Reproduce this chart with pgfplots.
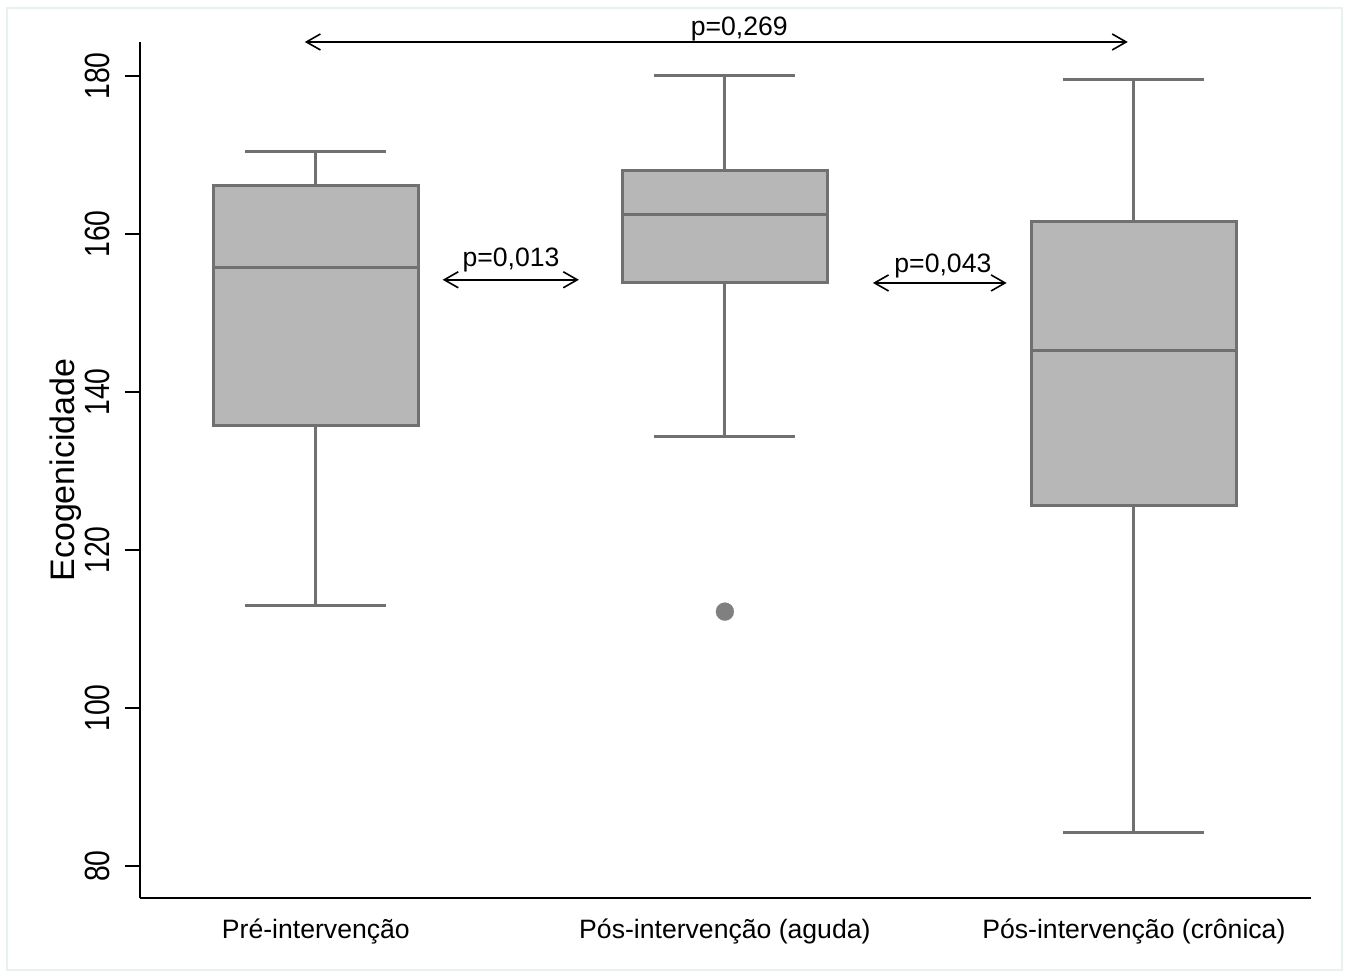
\documentclass[border=0pt]{standalone}
\usepackage{pgfplots}
\pgfplotsset{compat=1.18}
\usetikzlibrary{arrows.meta}
\usepackage{fontspec}
\setmainfont{Liberation Sans}
\newfontfamily\tickfont[FakeStretch=0.81]{Liberation Sans}
\definecolor{boxedge}{RGB}{112,112,112}
\definecolor{boxfill}{RGB}{183,183,183}
\definecolor{outc}{RGB}{128,128,128}
\definecolor{framec}{RGB}{232,240,242}
\begin{document}
\begin{tikzpicture}
\useasboundingbox (-70pt,-39.5pt) rectangle (604pt,449pt);
\draw[framec, line width=1pt] (-66.5pt,-36pt) rectangle (601pt,445pt);
\begin{axis}[
  at={(0pt,0pt)}, anchor=south west,
  scale only axis, width=585.5pt, height=428pt,
  xmin=0.57, xmax=3.433, ymin=75.95, ymax=184.3,
  clip=false,
  axis x line*=bottom, axis y line*=left,
  axis line style={-, black, line width=0.85pt},
  xtick={1,2,3},
  xticklabels={Pré-intervenção, Pós-intervenção (aguda), Pós-intervenção (crônica)},
  xtick style={draw=none},
  ytick={80,100,120,140,160,180},
  ytick style={black, line width=0.85pt},
  tick align=outside, major tick length=7.5pt,
  /pgf/number format/assume math mode=true,
  yticklabel style={rotate=90, anchor=south, inner sep=0pt, yshift=7.5pt, font=\tickfont\fontsize{17.5}{20}\selectfont},
  xticklabel style={anchor=base, inner sep=0pt, yshift=-13pt, font=\fontsize{13.3}{16}\selectfont},
  ylabel={Ecogenicidade},
  ylabel style={at={(axis description cs:0,0.5)}, anchor=base, inner sep=0pt, yshift=32.5pt, font=\fontsize{17}{20}\selectfont},
  cycle list={{draw=boxedge, solid, mark=none}},
  every axis plot/.append style={draw=boxedge, line width=1.5pt, line cap=rect},
]
% box 1: whisker low 113.0, Q1 135.8, median 155.8, Q3 166.1, whisker high 170.5
\addplot[fill=boxfill] coordinates {(0.75,135.8) (1.25,135.8) (1.25,166.1) (0.75,166.1) (0.75,135.8)};
\addplot coordinates {(0.75,155.8) (1.25,155.8)};
\addplot coordinates {(1,166.1) (1,170.5)};
\addplot coordinates {(0.8315,170.5) (1.1685,170.5)};
\addplot coordinates {(1,135.8) (1,113.0)};
\addplot coordinates {(0.8315,113.0) (1.1685,113.0)};
% box 2: 134.4, 153.9, 162.5, 168.0, 180.0; outlier 112.2
\addplot[fill=boxfill] coordinates {(1.75,153.9) (2.25,153.9) (2.25,168.0) (1.75,168.0) (1.75,153.9)};
\addplot coordinates {(1.75,162.5) (2.25,162.5)};
\addplot coordinates {(2,168.0) (2,180.0)};
\addplot coordinates {(1.8315,180.0) (2.1685,180.0)};
\addplot coordinates {(2,153.9) (2,134.4)};
\addplot coordinates {(1.8315,134.4) (2.1685,134.4)};
\addplot[only marks, mark=*, mark size=4.5pt, draw=outc, mark options={draw=outc, fill=outc, line width=0.1pt}] coordinates {(2,112.2)};
% box 3: 84.2, 125.6, 145.2, 161.6, 179.5
\addplot[fill=boxfill] coordinates {(2.75,125.6) (3.25,125.6) (3.25,161.6) (2.75,161.6) (2.75,125.6)};
\addplot coordinates {(2.75,145.2) (3.25,145.2)};
\addplot coordinates {(3,161.6) (3,179.5)};
\addplot coordinates {(2.8315,179.5) (3.1685,179.5)};
\addplot coordinates {(3,125.6) (3,84.2)};
\addplot coordinates {(2.8315,84.2) (3.1685,84.2)};
\draw[{Straight Barb[length=7pt,width=8pt]}-{Straight Barb[length=7pt,width=8pt]}, line width=0.8pt, black]
  (axis cs:0.973,184.3) -- (axis cs:2.985,184.3);
\draw[{Straight Barb[length=7pt,width=8pt]}-{Straight Barb[length=7pt,width=8pt]}, line width=0.8pt, black]
  (axis cs:1.31,154.2) -- (axis cs:1.643,154.2);
\draw[{Straight Barb[length=7pt,width=8pt]}-{Straight Barb[length=7pt,width=8pt]}, line width=0.8pt, black]
  (axis cs:2.362,153.8) -- (axis cs:2.689,153.8);
\node[anchor=base, yshift=3pt, font=\fontsize{13.3}{16}\selectfont] at (axis cs:2.035,184.3) {p=0,269};
\node[anchor=base, yshift=6.5pt, font=\fontsize{13.3}{16}\selectfont] at (axis cs:1.477,154.2) {p=0,013};
\node[anchor=base, yshift=5pt, font=\fontsize{13.3}{16}\selectfont] at (axis cs:2.533,153.8) {p=0,043};
\end{axis}
\end{tikzpicture}
\end{document}
